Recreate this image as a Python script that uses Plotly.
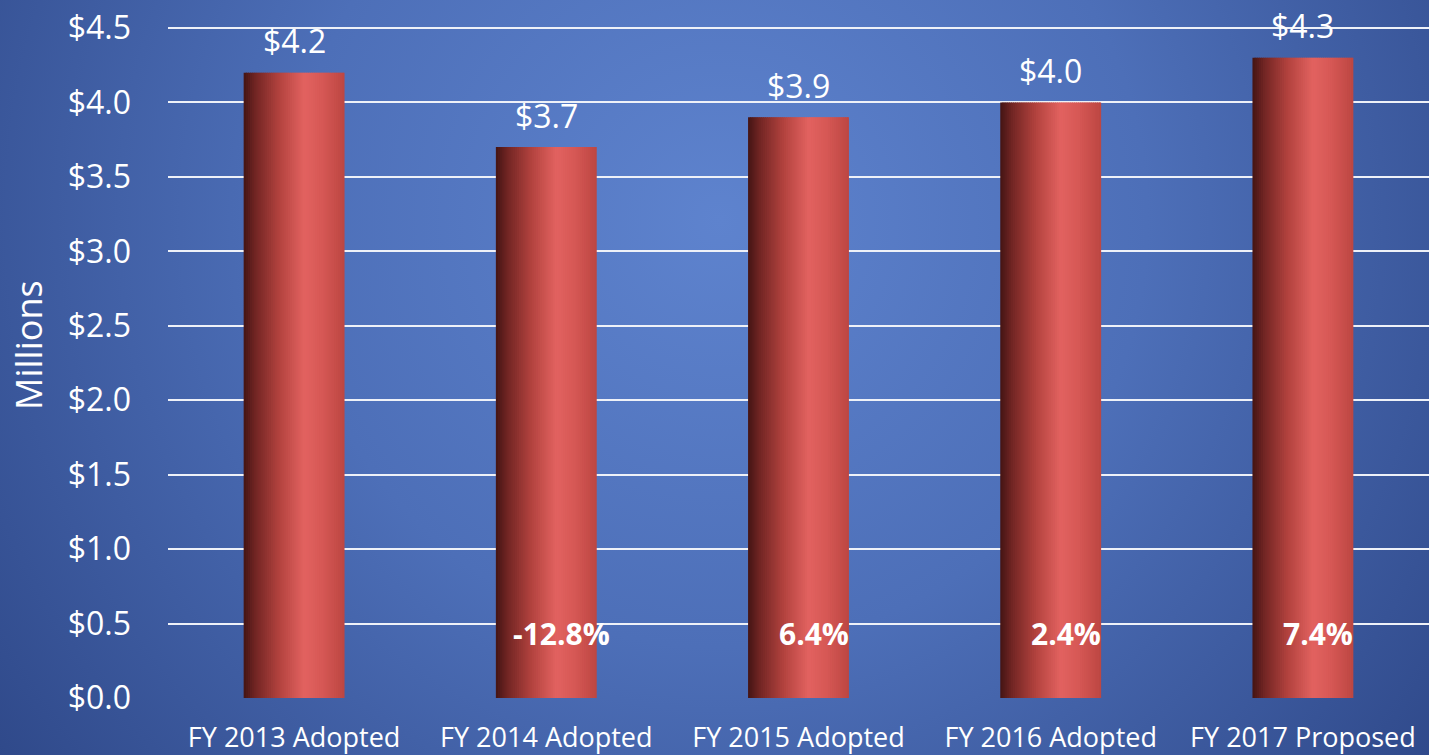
import plotly.graph_objects as go
import urllib.parse

# ---- data ----
categories = ["FY 2013 Adopted", "FY 2014 Adopted", "FY 2015 Adopted",
              "FY 2016 Adopted", "FY 2017 Proposed"]
values = [4.2, 3.7, 3.9, 4.0, 4.3]
value_labels = ["$4.2", "$3.7", "$3.9", "$4.0", "$4.3"]
pct_labels = ["", "-12.8%", "6.4%", "2.4%", "7.4%"]
y_ticks = [0, 0.5, 1.0, 1.5, 2.0, 2.5, 3.0, 3.5, 4.0, 4.5]
y_tick_text = ["$0.0", "$0.5", "$1.0", "$1.5", "$2.0", "$2.5", "$3.0", "$3.5", "$4.0", "$4.5"]
y_title = "Millions"

# ---- layout geometry ----
W, H = 1429, 755
ML, MR, MT, MB = 168, 0, 25, 57
PW, PH = W - ML - MR, H - MT - MB
Y_MAX = 4.5 + 3 * 4.5 / 670  # keeps the $4.5 gridline just inside the plot

BAR_W = 0.4
N = 48
stops = [(0.0, (68, 20, 20)), (0.12, (115, 38, 36)), (0.35, (178, 66, 62)),
         (0.6, (226, 98, 96)), (0.78, (214, 88, 85)), (1.0, (188, 70, 66))]


def grad(t):
    for (t0, c0), (t1, c1) in zip(stops, stops[1:]):
        if t0 <= t <= t1:
            f = (t - t0) / (t1 - t0)
            return "rgb(%d,%d,%d)" % tuple(round(a + (b - a) * f) for a, b in zip(c0, c1))
    return "rgb(%d,%d,%d)" % stops[-1][1]


fig = go.Figure()
step = BAR_W / N
for i in range(N):
    w = step * 1.6 if i < N - 1 else step
    fig.add_trace(go.Bar(
        x=categories, y=values,
        width=[w] * len(values),
        offset=[-BAR_W / 2 + i * step] * len(values),
        marker=dict(color=grad((i + 0.5) / N), line=dict(width=0)),
        showlegend=False, hoverinfo="skip",
    ))

annotations = []
for c, v, lab in zip(categories, values, value_labels):
    annotations.append(dict(x=c, y=v, text=lab, showarrow=False, yanchor="middle",
                            yshift=32, font=dict(family="Open Sans", size=32, color="white")))
for c, p in zip(categories, pct_labels):
    if p:
        annotations.append(dict(x=c, y=0.43, text="<b>%s</b>" % p, showarrow=False,
                                yanchor="middle", xshift=15,
                                font=dict(family="Open Sans", size=30, color="white")))
annotations.append(dict(xref="paper", yref="paper", x=(28 - ML) / PW, y=(698 - 345) / PH,
                        text=y_title, textangle=-90, showarrow=False,
                        xanchor="center", yanchor="middle",
                        font=dict(family="Open Sans", size=36, color="white")))

svg = (
    '<svg xmlns="http://www.w3.org/2000/svg" width="%d" height="%d" preserveAspectRatio="none">'
    '<defs><radialGradient id="g" gradientUnits="userSpaceOnUse" cx="720" cy="220" r="950">'
    '<stop offset="0" stop-color="#5e83ce"/><stop offset="0.45" stop-color="#4d6fb8"/>'
    '<stop offset="1" stop-color="#2c4585"/></radialGradient></defs>'
    '<rect width="100%%" height="100%%" fill="url(#g)"/></svg>' % (W, H)
)
src = "data:image/svg+xml;utf8," + urllib.parse.quote(svg)

fig.update_layout(
    width=W, height=H,
    margin=dict(l=ML, r=MR, t=MT, b=MB),
    barmode="overlay",
    paper_bgcolor="#3f5ea6",
    plot_bgcolor="rgba(0,0,0,0)",
    font=dict(family="Open Sans", color="white"),
    annotations=annotations,
    images=[dict(source=src, xref="paper", yref="paper",
                 x=-ML / PW, y=1 + MT / PH, sizex=W / PW, sizey=H / PH,
                 xanchor="left", yanchor="top", sizing="stretch", layer="below")],
    xaxis=dict(showgrid=False, showline=False, zeroline=False,
               tickfont=dict(family="Open Sans", size=27, color="white"),
               ticklabelstandoff=21),
    yaxis=dict(range=[0, Y_MAX], tickvals=y_ticks, ticktext=y_tick_text,
               showgrid=True, gridcolor="#eef1f8", gridwidth=2,
               zeroline=False, showline=False,
               tickfont=dict(family="Open Sans", size=32, color="white"),
               ticklabelstandoff=36),
)

fig.write_html("out.html", config={"displayModeBar": False},
               post_script="document.body.style.margin='0';document.body.style.overflow='hidden';")
